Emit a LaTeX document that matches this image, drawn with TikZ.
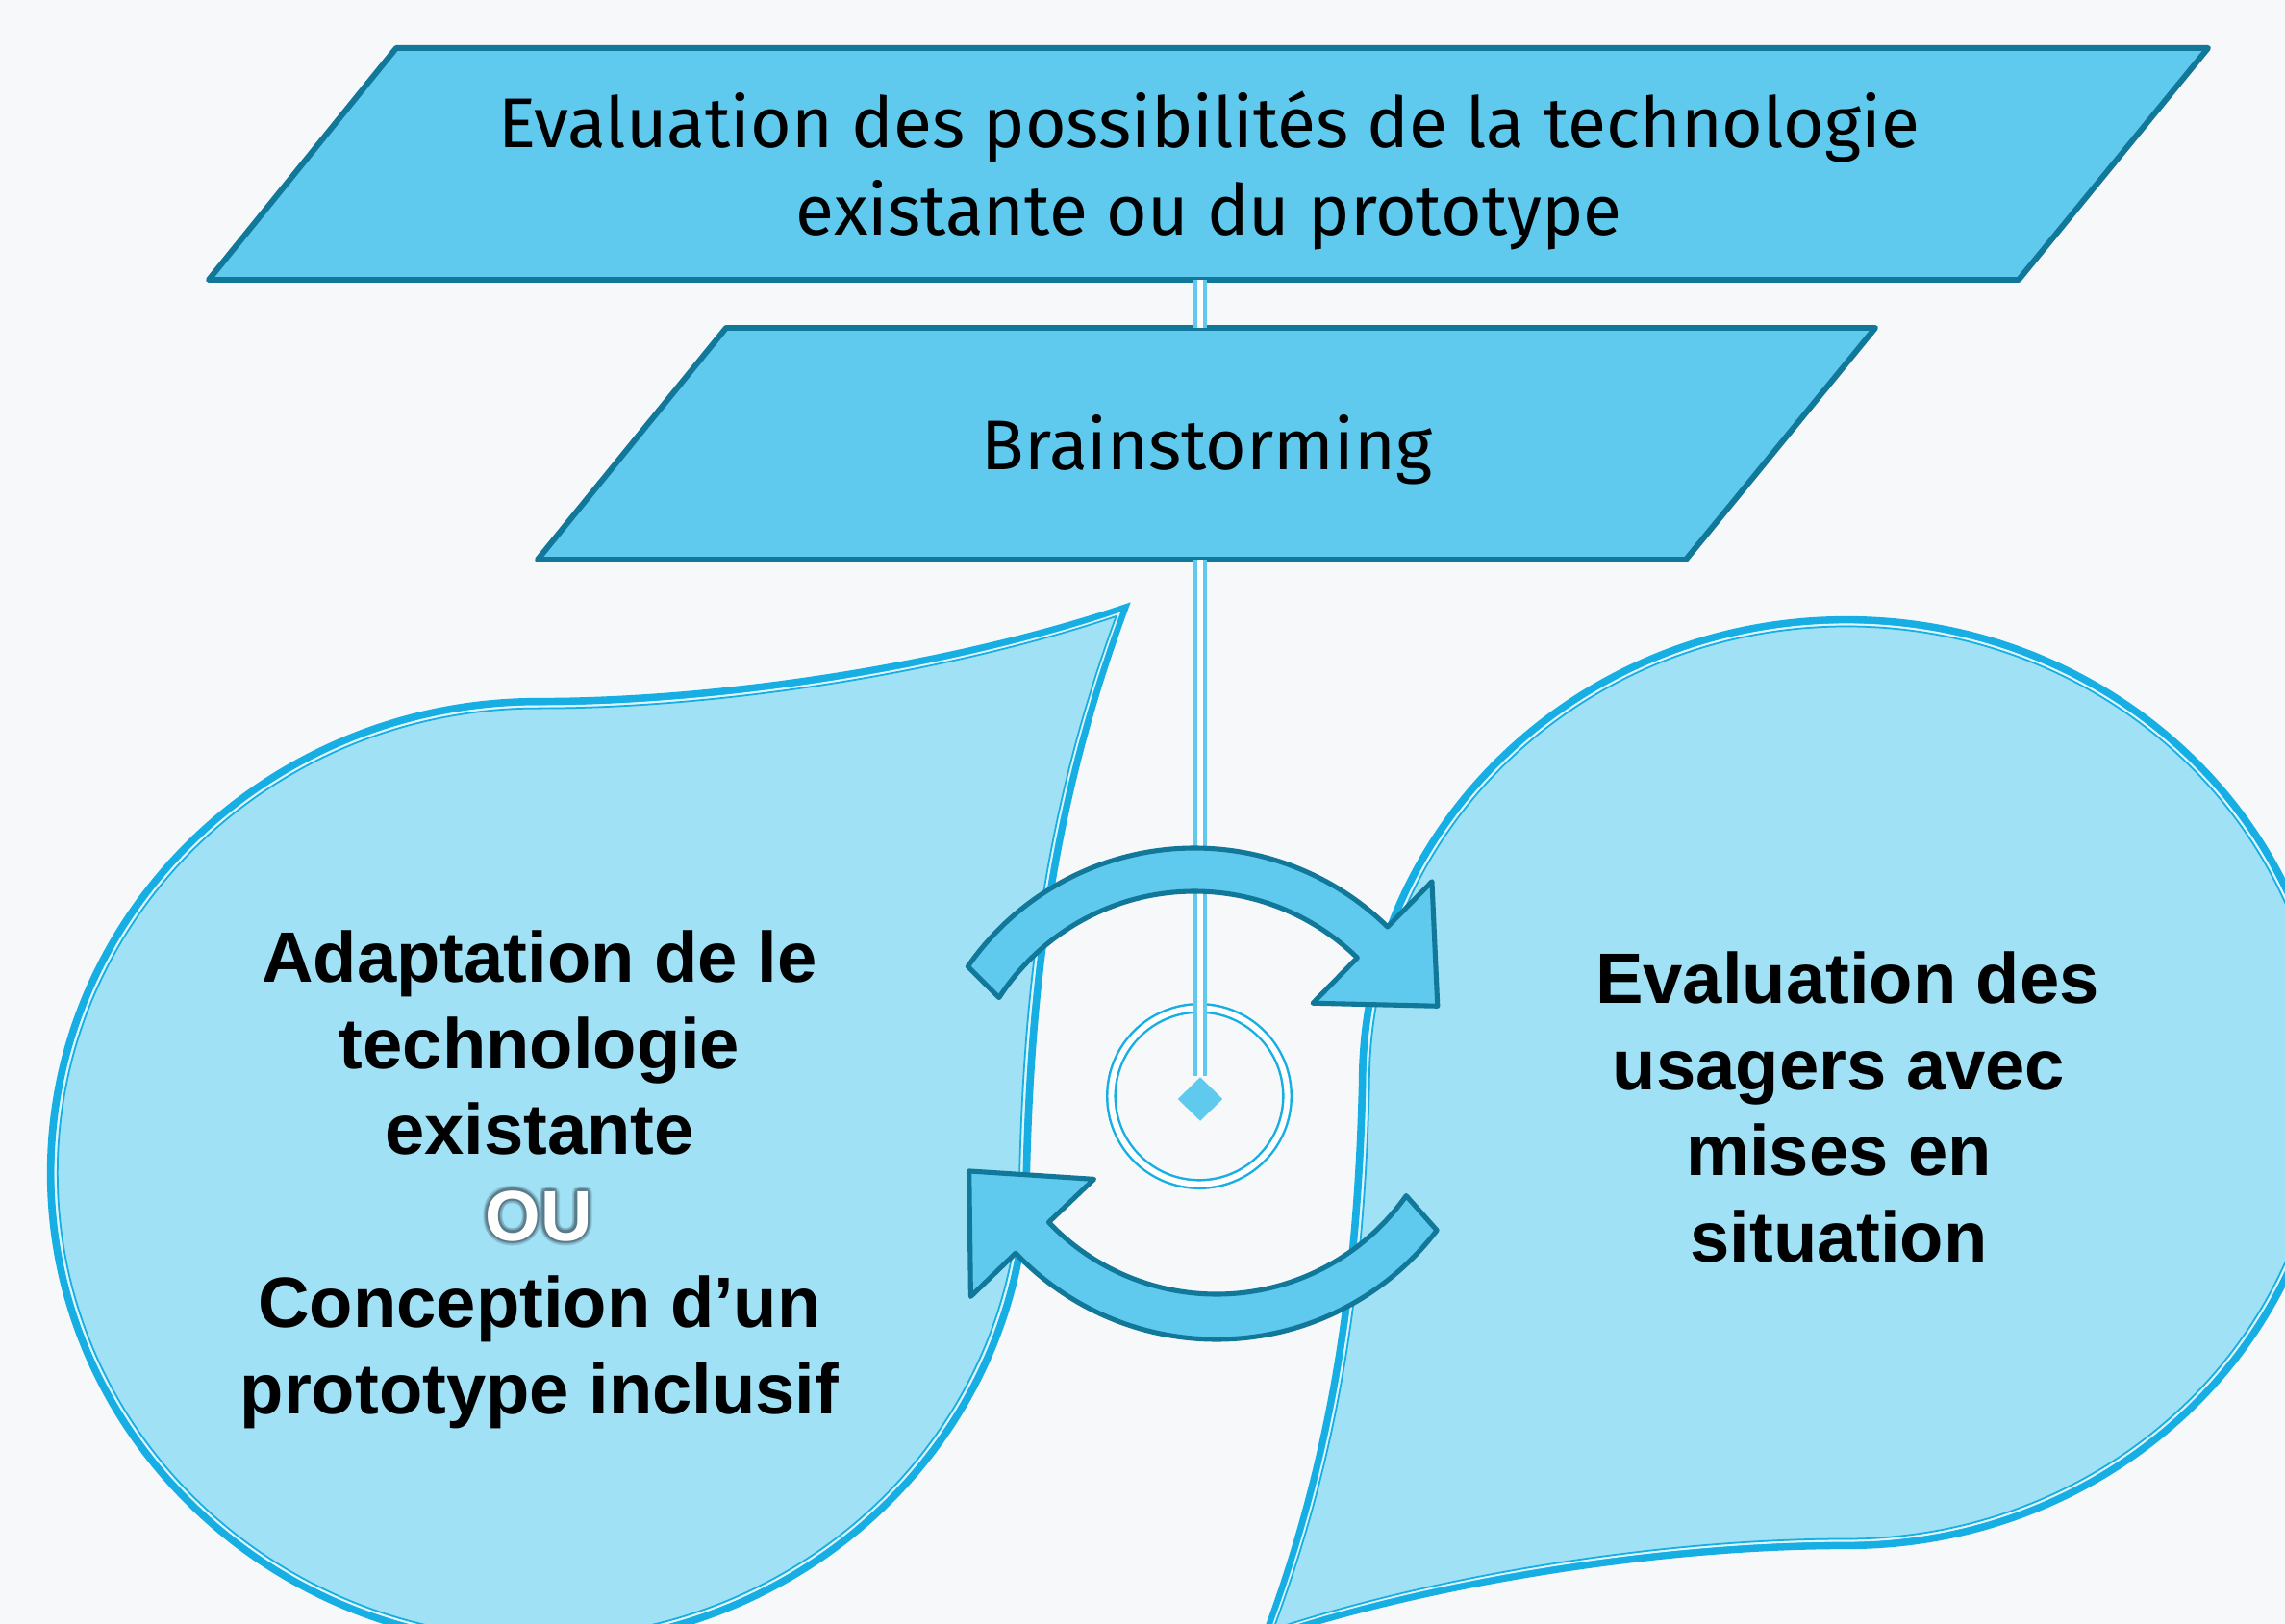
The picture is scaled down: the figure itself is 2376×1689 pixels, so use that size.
\documentclass[tikz,border=0pt]{standalone}
\usepackage{fontspec}
\setmainfont{Liberation Sans}
\newfontfamily\firafont{Fira Sans}
\usetikzlibrary{calc,shapes.geometric}
\definecolor{bgc}{HTML}{F7F8FA}
\definecolor{parafill}{HTML}{5FCAEE}
\definecolor{paraline}{HTML}{12789A}
\definecolor{dropfill}{HTML}{A1E1F5}
\definecolor{dropline}{HTML}{17AFE3}
\definecolor{dropgap}{HTML}{DDF4FC}
\definecolor{glowc}{HTML}{587A89}
\newcommand\dropshape{(1,0) arc[start angle=0,end angle=270,radius=1] .. controls (0.394,-1) and (0.868,-1.082) .. (1.201,-1.198) .. controls (1.065,-0.816) and (1.010,-0.449) .. (1,0) -- cycle}
\tikzset{
  parabox/.style={fill=parafill, draw=paraline, line width=1.7pt, line join=round},
  arrowband/.style={fill=parafill, draw=paraline, line width=1.45pt, line join=round},
  dropouter/.style={draw=dropline, line width=2.2pt},
  dropgapline/.style={draw=dropgap, line width=0.65pt},
  dropinner/.style={draw=dropline, line width=0.5pt},
  link/.style={draw=parafill, line width=1.4pt, double=white, double distance=1.45pt},
  titletext/.style={font=\firafont\fontsize{20.8}{25}\selectfont, anchor=base, inner sep=0pt},
  bodytext/.style={font=\bfseries\fontsize{21.1}{25.5}\selectfont, anchor=base, inner sep=0pt},
}
\begin{document}
\begin{tikzpicture}[x=0.01cm, y=-0.01cm]
\useasboundingbox (0,0) rectangle (2376,1689);
\clip (0,0) rectangle (2376,1689);
\fill[bgc] (0,0) rectangle (2376,1689);
% left teardrop
\begin{scope}[shift={(560,1220)}, x=5.07cm, y=-4.90cm]
  \fill[dropfill] \dropshape;
  \draw[dropouter] \dropshape;
  \begin{scope}[scale=0.9899] \draw[dropgapline] \dropshape; \end{scope}
  \begin{scope}[scale=0.9859] \draw[dropinner] \dropshape; \end{scope}
\end{scope}
% right teardrop
\begin{scope}[shift={(1920,1126)}, x=-5.03cm, y=4.81cm]
  \fill[dropfill] \dropshape;
  \draw[dropouter] \dropshape;
  \begin{scope}[scale=0.9899] \draw[dropgapline] \dropshape; \end{scope}
  \begin{scope}[scale=0.9859] \draw[dropinner] \dropshape; \end{scope}
\end{scope}
% parallelograms
\draw[parabox] (412,50) -- (2296,50) -- (2099,291) -- (217,291) -- cycle;
\draw[parabox] (755,341) -- (1950,341) -- (1753,582) -- (559,582) -- cycle;
\coordinate (p1b) at (1248,291);
\coordinate (p2t) at (1248,341);
\coordinate (p2b) at (1248,582);
% hub
\node[circle, draw=dropline, line width=0.7pt, double=white, double distance=1.7pt, minimum size=1.83cm, inner sep=0pt] (hub) at (1247,1140) {};
\node[diamond, fill=parafill, inner sep=0pt, minimum width=0.47cm, minimum height=0.46cm] (dia) at (1248,1143) {};
\draw[link] (p1b) -- (p2t);
\draw[link] (p2b) -- (dia.north);
% cycle arrows
\coordinate (ca) at (1242,1169);
\coordinate (cb) at (1265,1105);
\draw[arrowband] ($(ca)+(-145.2:287)$) arc[start angle=-145.2, end angle=-45.6, radius=287]
  -- ($(ca)+(-45.6:353)$) -- ($(ca)+(-25.9:281)$) -- ($(ca)+(-45.6:176)$)
  -- ($(ca)+(-45.6:242)$) arc[start angle=-45.6, end angle=-147.1, radius=242] -- cycle;
\draw[arrowband] ($(cb)+(37.3:288)$) arc[start angle=37.3, end angle=136.5, radius=288]
  -- ($(cb)+(136.4:353)$) -- ($(cb)+(156.3:281)$) -- ($(cb)+(136.4:176)$)
  -- ($(cb)+(136.4:241)$) arc[start angle=136.4, end angle=35.1, radius=241] -- cycle;
% texts
\node[titletext] (t1a) at (1257,154) {Evaluation des possibilités de la technologie};
\node[titletext] (t1b) at (1257,245) {existante ou du prototype};
\node[titletext] (t2) at (1255,489) {Brainstorming};
\node[bodytext] (l1) at (561,1021) {Adaptation de le};
\node[bodytext] (l2) at (561,1111) {technologie};
\node[bodytext] (l3) at (561,1200) {existante};
\foreach \a in {0,30,...,330} {\node[bodytext, text=glowc, opacity=0.18] (ouh\a) at ($(560,1290)+(\a:5)$) {OU};}
\foreach \a in {0,30,...,330} {\node[bodytext, text=glowc, opacity=0.45] (oug\a) at ($(560,1290)+(\a:2.5)$) {OU};}
\node[bodytext, text=white] (ou) at (560,1290) {OU};
\node[bodytext] (l5) at (561,1380) {Conception d’un};
\node[bodytext] (l6) at (561,1470) {prototype inclusif};
\node[bodytext] (r1) at (1921,1043) {Evaluation des};
\node[bodytext] (r2) at (1912,1133) {usagers avec};
\node[bodytext] (r3) at (1912,1222) {mises en};
\node[bodytext] (r4) at (1912,1312) {situation};
\end{tikzpicture}
\end{document}
